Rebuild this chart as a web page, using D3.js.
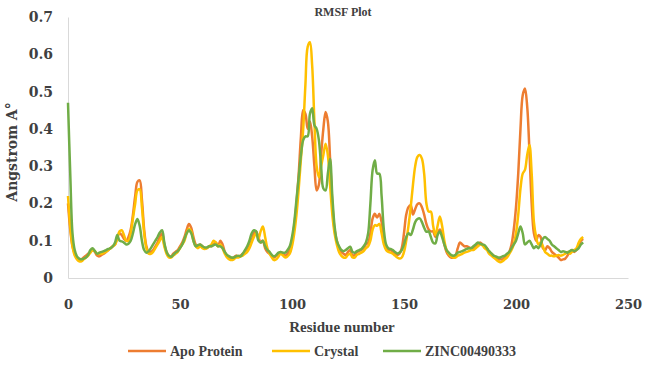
<!DOCTYPE html>
<html>
<head>
<meta charset="utf-8">
<script src="https://cdn.jsdelivr.net/npm/d3@7"></script>
<style>
  body { margin: 0; background: #fff; }
</style>
</head>
<body>
<div id="rmsfChart"></div>
<script>
// residue numbers 0..230, one value per residue
const residues = d3.range(0, 231);

const apoProtein = [
  0.20, 0.13, 0.085, 0.065, 0.055, 0.05, 0.05, 0.055, 0.06, 0.065,
  0.07, 0.075, 0.07, 0.06, 0.058, 0.062, 0.065, 0.07, 0.075, 0.08,
  0.085, 0.09, 0.11, 0.12, 0.115, 0.105, 0.10, 0.11, 0.13, 0.17,
  0.22, 0.258, 0.262, 0.21, 0.13, 0.085, 0.07, 0.07, 0.075, 0.085,
  0.095, 0.11, 0.12, 0.09, 0.07, 0.06, 0.058, 0.065, 0.07, 0.075,
  0.085, 0.095, 0.11, 0.13, 0.145, 0.135, 0.11, 0.09, 0.085, 0.09,
  0.085, 0.08, 0.08, 0.085, 0.085, 0.09, 0.095, 0.085, 0.10, 0.09,
  0.07, 0.06, 0.055, 0.052, 0.055, 0.06, 0.058, 0.06, 0.065, 0.07,
  0.075, 0.085, 0.10, 0.12, 0.125, 0.11, 0.095, 0.10, 0.08, 0.07,
  0.065, 0.06, 0.055, 0.06, 0.065, 0.07, 0.065, 0.06, 0.065, 0.075,
  0.10, 0.14, 0.20, 0.28, 0.38, 0.45, 0.44, 0.40, 0.42, 0.38,
  0.30, 0.235, 0.25, 0.33, 0.40, 0.445, 0.42, 0.32, 0.20, 0.13,
  0.10, 0.08, 0.07, 0.065, 0.062, 0.07, 0.075, 0.06, 0.062, 0.07,
  0.072, 0.075, 0.08, 0.09, 0.095, 0.12, 0.16, 0.172, 0.162, 0.172,
  0.15, 0.10, 0.08, 0.075, 0.075, 0.07, 0.065, 0.062, 0.065, 0.08,
  0.12, 0.17, 0.19, 0.195, 0.17, 0.185, 0.198, 0.20, 0.19, 0.17,
  0.145, 0.13, 0.125, 0.125, 0.11, 0.12, 0.13, 0.12, 0.09, 0.07,
  0.06, 0.055, 0.055, 0.06, 0.08, 0.095, 0.09, 0.085, 0.085, 0.082,
  0.08, 0.08, 0.085, 0.09, 0.095, 0.09, 0.085, 0.08, 0.07, 0.065,
  0.06, 0.055, 0.05, 0.05, 0.05, 0.055, 0.06, 0.07, 0.09, 0.13,
  0.19, 0.28, 0.40, 0.49, 0.508, 0.46, 0.34, 0.20, 0.12, 0.10,
  0.115, 0.11, 0.08, 0.075, 0.085, 0.08, 0.07, 0.065, 0.06, 0.055,
  0.048, 0.05, 0.052, 0.06, 0.07, 0.075, 0.07, 0.075, 0.085, 0.10,
  0.105
];

const crystal = [
  0.22, 0.14, 0.085, 0.06, 0.05, 0.045, 0.045, 0.05, 0.055, 0.06,
  0.068, 0.075, 0.072, 0.065, 0.065, 0.065, 0.068, 0.07, 0.075, 0.08,
  0.085, 0.09, 0.105, 0.125, 0.128, 0.115, 0.10, 0.10, 0.12, 0.16,
  0.20, 0.235, 0.238, 0.19, 0.12, 0.08, 0.065, 0.065, 0.07, 0.08,
  0.09, 0.10, 0.11, 0.085, 0.065, 0.055, 0.055, 0.06, 0.065, 0.07,
  0.08, 0.09, 0.10, 0.12, 0.132, 0.125, 0.10, 0.085, 0.08, 0.085,
  0.08, 0.078, 0.08, 0.085, 0.09, 0.10, 0.095, 0.085, 0.09, 0.08,
  0.065, 0.055, 0.05, 0.048, 0.05, 0.055, 0.055, 0.058, 0.06, 0.065,
  0.07, 0.08, 0.095, 0.11, 0.12, 0.105, 0.125, 0.138, 0.11, 0.08,
  0.065, 0.055, 0.048, 0.05, 0.058, 0.065, 0.06, 0.055, 0.058, 0.065,
  0.085, 0.12, 0.17, 0.24, 0.32, 0.40, 0.52, 0.62, 0.632, 0.57,
  0.42, 0.30, 0.27, 0.30, 0.33, 0.36, 0.33, 0.25, 0.17, 0.12,
  0.09, 0.07, 0.06, 0.055, 0.055, 0.062, 0.065, 0.055, 0.055, 0.062,
  0.065, 0.068, 0.072, 0.08, 0.085, 0.10, 0.13, 0.142, 0.14, 0.145,
  0.12, 0.09, 0.075, 0.07, 0.068, 0.065, 0.06, 0.055, 0.052, 0.055,
  0.07, 0.10, 0.14, 0.19, 0.25, 0.30, 0.325, 0.33, 0.32, 0.28,
  0.20, 0.178, 0.178, 0.14, 0.115, 0.14, 0.165, 0.14, 0.10, 0.075,
  0.065, 0.058, 0.055, 0.055, 0.06, 0.062, 0.065, 0.068, 0.07, 0.072,
  0.075, 0.075, 0.08, 0.085, 0.09, 0.088, 0.08, 0.075, 0.065, 0.06,
  0.055, 0.05, 0.045, 0.042, 0.045, 0.05, 0.055, 0.065, 0.075, 0.09,
  0.12, 0.17, 0.24, 0.28, 0.29, 0.33, 0.357, 0.28, 0.15, 0.11,
  0.09, 0.095, 0.085, 0.07, 0.065, 0.06, 0.06, 0.058, 0.06, 0.062,
  0.06, 0.062, 0.065, 0.07, 0.065, 0.07, 0.075, 0.08, 0.095, 0.105,
  0.11
];

const zinc00490333 = [
  0.47, 0.28, 0.12, 0.075, 0.058, 0.052, 0.05, 0.052, 0.055, 0.062,
  0.075, 0.08, 0.072, 0.065, 0.068, 0.07, 0.072, 0.075, 0.078, 0.08,
  0.085, 0.095, 0.115, 0.10, 0.098, 0.095, 0.09, 0.092, 0.10, 0.12,
  0.145, 0.158, 0.14, 0.10, 0.075, 0.068, 0.072, 0.08, 0.09, 0.10,
  0.11, 0.122, 0.128, 0.095, 0.07, 0.06, 0.057, 0.062, 0.068, 0.072,
  0.08, 0.09, 0.105, 0.12, 0.128, 0.12, 0.10, 0.085, 0.088, 0.09,
  0.085, 0.082, 0.082, 0.085, 0.085, 0.088, 0.09, 0.085, 0.085, 0.08,
  0.07, 0.062, 0.058, 0.055, 0.055, 0.058, 0.06, 0.058, 0.065, 0.075,
  0.085, 0.10, 0.12, 0.128, 0.125, 0.10, 0.095, 0.10, 0.085, 0.075,
  0.07, 0.062, 0.058, 0.062, 0.068, 0.07, 0.068, 0.068, 0.075, 0.085,
  0.11, 0.15, 0.21, 0.27, 0.33, 0.37, 0.38, 0.38, 0.44, 0.455,
  0.41, 0.40, 0.37, 0.30, 0.24, 0.235, 0.28, 0.32, 0.22, 0.14,
  0.10, 0.085, 0.075, 0.072, 0.075, 0.08, 0.084, 0.07, 0.068, 0.072,
  0.075, 0.078, 0.085, 0.095, 0.12, 0.20, 0.29, 0.316, 0.28, 0.28,
  0.22, 0.13, 0.09, 0.08, 0.078, 0.075, 0.07, 0.066, 0.068, 0.075,
  0.09, 0.11, 0.12, 0.115, 0.13, 0.15, 0.158, 0.16, 0.15, 0.135,
  0.124, 0.125, 0.11, 0.095, 0.093, 0.115, 0.125, 0.11, 0.09, 0.075,
  0.068, 0.062, 0.06, 0.062, 0.068, 0.07, 0.072, 0.075, 0.078, 0.08,
  0.08, 0.085, 0.09, 0.095, 0.092, 0.09, 0.088, 0.08, 0.072, 0.066,
  0.06, 0.058, 0.055, 0.055, 0.058, 0.06, 0.065, 0.07, 0.08, 0.09,
  0.10, 0.12, 0.138, 0.12, 0.09, 0.095, 0.10, 0.09, 0.08, 0.085,
  0.08, 0.09, 0.105, 0.11, 0.105, 0.10, 0.09, 0.085, 0.08, 0.075,
  0.07, 0.072, 0.07, 0.068, 0.072, 0.075, 0.072, 0.075, 0.08, 0.09,
  0.095
];

const seriesNames = ["Apo Protein", "Crystal", "ZINC00490333"];
const seriesColors = ["#ED7D31", "#FFC000", "#70AD47"];
const xTicks = [0, 50, 100, 150, 200, 250];
const yTicks = [0, 0.1, 0.2, 0.3, 0.4, 0.5, 0.6, 0.7];

const margin = {top: 17, right: 17, bottom: 90, left: 68},
    width = 645 - margin.left - margin.right,
    height = 368 - margin.top - margin.bottom;

const svg = d3.select("#rmsfChart")
  .append("svg")
    .attr("width", width + margin.left + margin.right)
    .attr("height", height + margin.top + margin.bottom)
    .style("background-color", "#ffffff")
  .append("g")
    .attr("transform", "translate(" + margin.left + "," + margin.top + ")");

const x = d3.scaleLinear().domain([0, 250]).range([0, width]);
const y = d3.scaleLinear().domain([0, 0.7]).range([height, 0]);

const tickFont = "'DejaVu Serif', serif";
const labelFont = "'Liberation Serif', serif";

svg.append("g")
  .attr("transform", "translate(0," + height + ")")
  .call(d3.axisBottom(x).tickValues(xTicks).tickSize(0).tickPadding(22))
  .call(g => g.select(".domain").attr("stroke", "#D9D9D9"))
  .selectAll("text")
    .style("font-family", tickFont)
    .style("font-weight", "bold")
    .style("font-size", "13px")
    .style("fill", "#404040");

svg.append("g")
  .call(d3.axisLeft(y).tickValues(yTicks).tickSize(0).tickPadding(15)
    .tickFormat(d => d === 0 ? "0" : d.toFixed(1)))
  .call(g => g.select(".domain").attr("stroke", "#D9D9D9"))
  .selectAll("text")
    .style("font-family", tickFont)
    .style("font-weight", "bold")
    .style("font-size", "14px")
    .style("fill", "#404040");

const allSeries = [apoProtein, crystal, zinc00490333];

const line = d3.line()
  .x((d, i) => x(residues[i]))
  .y(d => y(d))
  .curve(d3.curveCatmullRom.alpha(0.5));

allSeries.forEach((values, k) => {
  svg.append("path")
    .datum(values)
    .attr("fill", "none")
    .attr("stroke", seriesColors[k])
    .attr("stroke-width", 2.5)
    .attr("stroke-linejoin", "round")
    .attr("d", line);
});

// title
svg.append("text")
  .attr("x", 275)
  .attr("y", -1)
  .attr("text-anchor", "middle")
  .style("font-family", labelFont)
  .style("font-weight", "bold")
  .style("font-size", "12px")
  .style("fill", "#404040")
  .text("RMSF Plot");

// axis titles
svg.append("text")
  .attr("x", width / 2 - 6)
  .attr("y", height + 54)
  .attr("text-anchor", "middle")
  .style("font-family", labelFont)
  .style("font-weight", "bold")
  .style("font-size", "15px")
  .style("fill", "#404040")
  .text("Residue number");

svg.append("text")
  .attr("transform", "rotate(-90)")
  .attr("x", -135)
  .attr("y", -51)
  .attr("text-anchor", "middle")
  .style("font-family", tickFont)
  .style("font-weight", "bold")
  .style("font-size", "14px")
  .style("fill", "#404040")
  .text("Angstrom A°");

// legend
const legendX = [128, 272, 383];
const legend = svg.append("g")
  .attr("transform", "translate(" + (-margin.left) + "," + (351 - margin.top) + ")");
seriesNames.forEach((name, k) => {
  legend.append("line")
    .attr("x1", legendX[k])
    .attr("x2", legendX[k] + 38)
    .attr("y1", 0)
    .attr("y2", 0)
    .attr("stroke", seriesColors[k])
    .attr("stroke-width", 2.5);
  legend.append("text")
    .attr("x", legendX[k] + 42)
    .attr("y", 5)
    .style("font-family", labelFont)
    .style("font-weight", "bold")
    .style("font-size", "14px")
    .style("fill", "#404040")
    .text(name);
});
</script>
</body>
</html>
